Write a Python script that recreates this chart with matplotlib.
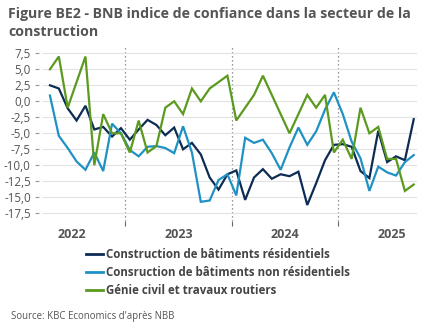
import matplotlib
matplotlib.use("Agg")
import matplotlib.pyplot as plt
from matplotlib.ticker import FixedLocator, FuncFormatter

# months Apr 2022 .. Sep 2025 (index 0..41)
nMonths = 42
years = ["2022", "2023", "2024", "2025"]
yearCenters = [2.5, 14.5, 26.5, 38.5]     # mid-year position in month index
yearBreaks = [8.5, 20.5, 32.5]

residentiel = [2.5, 2.0, -1.1, -3.0, -0.7, -4.4, -4.0, -5.5, -4.2,
               -6.0, -4.4, -2.9, -3.7, -5.3, -4.1, -7.5, -6.5, -8.3, -11.9, -13.8, -11.4,
               -10.8, -15.4, -11.9, -10.6, -12.1, -11.4, -11.7, -11.0, -16.2, -12.8, -9.2, -6.8,
               -6.7, -7.1, -10.9, -12.0, -4.6, -9.5, -8.6, -9.2, -2.8]
nonResidentiel = [0.9, -5.4, -7.3, -9.4, -10.7, -8.0, -10.9, -3.5, -5.0,
                  -7.6, -8.6, -7.1, -7.0, -7.3, -8.1, -3.9, -8.0, -15.7, -15.5, -12.3, -11.4,
                  -14.7, -5.7, -6.5, -6.0, -8.1, -10.7, -7.2, -4.1, -6.8, -4.7, -1.3, 1.4,
                  -2.0, -6.3, -8.9, -14.0, -10.2, -11.1, -11.6, -9.5, -8.4]
genieCivil = [5, 7, -1, 3, 7, -10, -2, -5, -5,
              -8, -3, -8, -7, -1, 0, -2, 2, 0, 2, 3, 4,
              -3, -1, 1, 4, 1, -2, -5, -2, 1, -1, 1, -8,
              -6, -9, -1, -5, -4, -9, -9, -14, -13]

labels = ["Construction de bâtiments résidentiels",
          "Consruction de bâtiments non résidentiels",
          "Génie civil et travaux routiers"]
colors = ["#0d2c54", "#1f91c3", "#5b9a1f"]
yTicks = [7.5, 5.0, 2.5, 0.0, -2.5, -5.0, -7.5, -10.0, -12.5, -15.0, -17.5]

plt.rcParams["font.family"] = ["Open Sans", "DejaVu Sans"]
txtColor = "#555555"

W, H = 432, 334
fig = plt.figure(figsize=(W/100, H/100), dpi=100)
ax = fig.add_axes([43.3/W, 1-221/H, (417.3-43.3)/W, (221-46)/H])

x = list(range(nMonths))
series = [residentiel, nonResidentiel, genieCivil]
lines = []
for s, c, lab in zip(series, colors, labels):
    ln, = ax.plot(x, s, color=c, lw=1.6, label=lab, solid_joinstyle="miter")
    lines.append(ln)

ax.set_xlim(-0.75, 41.4)
ax.set_ylim(-18.7, 8.64)

for b in yearBreaks:
    ax.axvline(b, color="#777777", lw=0.9, ls=(0, (1, 2.2)), zorder=0)

ax.yaxis.set_major_locator(FixedLocator(yTicks))
ax.yaxis.set_major_formatter(FuncFormatter(lambda v, p: ("%.1f" % v).replace(".", ",")))
ax.grid(axis="y", color="#e2e2e2", lw=0.8, zorder=0)
ax.set_axisbelow(True)

ax.xaxis.set_major_locator(FixedLocator(yearBreaks))
ax.xaxis.set_major_formatter(FuncFormatter(lambda v, p: ""))
ax.xaxis.set_minor_locator(FixedLocator(yearCenters))
ax.set_xticklabels(years, minor=True)
ax.tick_params(axis="x", which="major", length=3.8, width=0.8, color="#666666", direction="out")
ax.tick_params(axis="x", which="minor", length=0, pad=5, labelsize=9, labelcolor=txtColor)
for t in ax.get_xticklabels(minor=True):
    t.set_fontweight("bold")

ax.tick_params(axis="y", length=3.1, width=0.8, color="#999999", pad=3, labelsize=8.4, labelcolor=txtColor)
for t in ax.get_yticklabels():
    t.set_fontweight("bold")

for sp in ["top", "right", "bottom"]:
    ax.spines[sp].set_visible(False)
ax.spines["left"].set_visible(False)
ax.spines["left"].set_position(("outward", 2.9))

fig.text(8/W, 1-7/H, "Figure BE2 - BNB indice de confiance dans la secteur de la\nconstruction",
         fontsize=10.2, fontweight="bold", color=txtColor, va="top", ha="left", linespacing=1.35)

leg = fig.legend(handles=lines, loc="upper left", bbox_to_anchor=(86/W, 1-248.5/H),
                 frameon=False, fontsize=8.3, handlelength=1.45, handletextpad=0.25,
                 labelspacing=0.42, borderpad=0, borderaxespad=0)
for t in leg.get_texts():
    t.set_fontweight("bold")
    t.set_color("#444444")
for h in leg.legend_handles:
    h.set_linewidth(2)

fig.text(11/W, 1-316/H, "Source: KBC Economics d'après NBB", fontsize=6.9, color=txtColor,
         va="center", ha="left")

fig.savefig("out.png", dpi=100)
